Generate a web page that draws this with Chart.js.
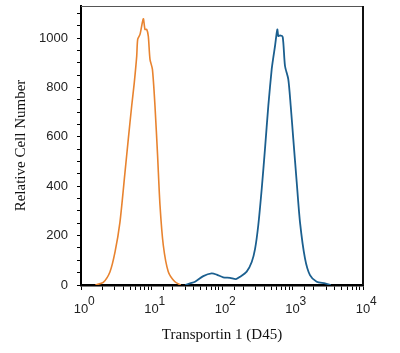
<!DOCTYPE html>
<html>
<head>
<meta charset="utf-8">
<script src="https://cdn.jsdelivr.net/npm/chart.js@4/dist/chart.umd.min.js"></script>
<style>
  html, body { margin: 0; padding: 0; background: #fff; }
</style>
</head>
<body>
<canvas id="histo" width="400" height="353"></canvas>
<script>
// values (x = fluorescence, y = cell count)
const ORANGE_X = [1.6, 2.07, 2.58, 3.04, 3.57, 4.21, 4.69, 5.24, 5.7, 6.17, 6.37, 6.87, 7.65, 8.09, 8.55, 9.01, 9.52, 10.3, 11.2, 12.2, 13.2, 14.7, 17.3, 21.5, 26];
const ORANGE_Y = [0, 11, 54, 134, 255, 457, 592, 726, 820, 927, 995, 1015, 1078, 1035, 1035, 1008, 914, 874, 726, 524, 323, 161, 54, 13, 0];

const BLUE_X = [30, 35.2, 41.4, 54.3, 71.4, 84.1, 104, 130, 158, 180, 224, 264, 294, 327, 366, 407, 454, 507, 534, 565, 609, 629, 665, 726, 783, 872, 943, 1026, 1147, 1277, 1503, 1770, 2205, 2891, 3500];
const BLUE_Y = [0, 7, 13, 36, 47, 42, 31, 29, 24, 33, 54, 93, 145, 242, 390, 551, 726, 874, 921, 968, 1035, 1008, 1011, 1005, 887, 833, 726, 592, 417, 255, 108, 40, 13, 7, 0];

const X_DECADES = [0, 1, 2, 3, 4];
const Y_LABEL_STEP = 200;
const Y_MINOR_STEP = 50;
const X_TITLE = "Transportin 1 (D45)";
const Y_TITLE = "Relative Cell Number";

const ORANGE = "#e8832f";
const BLUE = "#1b5f8f";

const toPoints = (xs, ys) => xs.map((x, i) => ({ x: x, y: ys[i] }));

const isDecade = (v) => {
  const e = Math.log10(v);
  return Math.abs(e - Math.round(e)) < 1e-9;
};

// top/right frame and the exponents of the 10^n labels
const frameAndExponents = {
  id: "frameAndExponents",
  afterDraw(chart) {
    const { ctx, chartArea: a, scales } = chart;
    ctx.save();
    ctx.strokeStyle = "#555";
    ctx.lineWidth = 1;
    ctx.beginPath();
    ctx.moveTo(a.left, a.top + 0.5);
    ctx.lineTo(a.right, a.top + 0.5);
    ctx.stroke();
    ctx.strokeStyle = "#111";
    ctx.lineWidth = 2;
    ctx.beginPath();
    ctx.moveTo(a.right, a.top);
    ctx.lineTo(a.right, a.bottom);
    ctx.stroke();

    ctx.fillStyle = "#222";
    ctx.font = "12px 'Liberation Sans'";
    ctx.textAlign = "left";
    ctx.textBaseline = "top";
    X_DECADES.forEach((e) => {
      const px = scales.x.getPixelForValue(Math.pow(10, e));
      ctx.fillText(String(e), px + 7, a.bottom + 11);
    });
    ctx.restore();
  },
};

const histoChart = new Chart(document.getElementById("histo"), {
  type: "line",
  data: {
    datasets: [
      {
        label: "Isotype",
        data: toPoints(ORANGE_X, ORANGE_Y),
        borderColor: ORANGE,
        borderWidth: 1.6,
        pointRadius: 0,
        tension: 0.25,
        fill: false,
      },
      {
        label: "Transportin 1",
        data: toPoints(BLUE_X, BLUE_Y),
        borderColor: BLUE,
        borderWidth: 1.8,
        pointRadius: 0,
        tension: 0.25,
        fill: false,
      },
    ],
  },
  options: {
    responsive: false,
    animation: false,
    layout: { padding: { top: 6, right: 37, left: 0, bottom: 0 } },
    plugins: {
      legend: { display: false },
      tooltip: { enabled: false },
    },
    scales: {
      x: {
        type: "logarithmic",
        min: 1,
        max: 10000,
        afterFit: (s) => {
          s.height = 68;
          s.paddingLeft = 0;
          s.paddingRight = 0;
        },
        border: { color: "#000", width: 2.5 },
        grid: { drawOnChartArea: false, tickLength: 5, tickColor: "#000" },
        ticks: {
          autoSkip: false,
          maxRotation: 0,
          padding: 12,
          color: "#222",
          font: { family: "Liberation Sans", size: 13 },
          callback: (v) => (isDecade(v) ? "10" : ""),
        },
        title: {
          display: true,
          text: X_TITLE,
          color: "#111",
          font: { family: "Liberation Serif", size: 15 },
          padding: { top: 0, bottom: 9 },
        },
      },
      y: {
        min: 0,
        max: 1130,
        afterFit: (s) => {
          s.width = 81;
          s.paddingTop = 0;
          s.paddingBottom = 0;
        },
        border: { color: "#000", width: 2 },
        grid: { drawOnChartArea: false, tickLength: 4, tickColor: "#000" },
        ticks: {
          stepSize: Y_MINOR_STEP,
          includeBounds: false,
          autoSkip: false,
          padding: 9,
          color: "#222",
          font: { family: "Liberation Sans", size: 13 },
          callback: (v) => (v % Y_LABEL_STEP === 0 ? v : ""),
        },
        title: {
          display: true,
          text: Y_TITLE,
          color: "#111",
          font: { family: "Liberation Serif", size: 15 },
          padding: { top: 12, bottom: 0 },
        },
      },
    },
  },
  plugins: [frameAndExponents],
});
</script>
</body>
</html>
